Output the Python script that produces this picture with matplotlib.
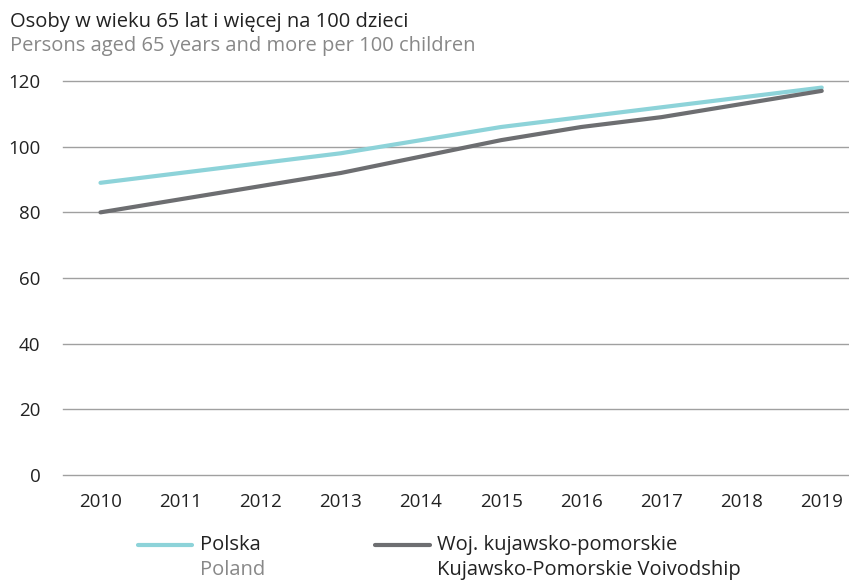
import matplotlib.pyplot as plt
from matplotlib.lines import Line2D

plt.rcParams['font.family'] = ['Open Sans', 'DejaVu Sans']

years = [2010, 2011, 2012, 2013, 2014, 2015, 2016, 2017, 2018, 2019]
polska = [89, 92, 95, 98, 102, 106, 109, 112, 115, 118]
kujawsko = [80, 84, 88, 92, 97, 102, 106, 109, 113, 117]

c_pl = '#8dd3d9'
c_kp = '#6d6e71'

fig = plt.figure(figsize=(8.49, 5.85), dpi=100)
ax = fig.add_axes([0.074, 0.188, 0.926, 0.6735])

ax.plot(years, polska, color=c_pl, lw=3, solid_capstyle='round', zorder=3)
ax.plot(years, kujawsko, color=c_kp, lw=3, solid_capstyle='round', zorder=3)

ax.set_ylim(0, 120)
ax.set_xlim(2009.53, 2019.34)
ax.set_yticks(range(0, 121, 20))
ax.set_xticks(years)
ax.grid(axis='y', color='#a0a0a0', lw=1)
for gl in ax.get_ygridlines():
    gl.set_clip_on(False)
ax.set_axisbelow(True)
for s in ax.spines.values():
    s.set_visible(False)
ax.tick_params(length=0, labelsize=13.5, colors='#222222')
ax.tick_params(axis='y', pad=16)
ax.tick_params(axis='x', pad=13)

fig.text(0.012, 0.962, 'Osoby w wieku 65 lat i więcej na 100 dzieci', fontsize=14.5,
         color='#222222', va='center')
fig.text(0.012, 0.921, 'Persons aged 65 years and more per 100 children', fontsize=14.5,
         color='#888888', va='center')

# legend
fig.add_artist(Line2D([138/849, 192/849], [1-545/585]*2, color=c_pl, lw=3,
                      solid_capstyle='round'))
fig.text(200/849, 1-545/585, 'Polska', fontsize=14.5, color='#222222', va='center')
fig.text(200/849, 1-570/585, 'Poland', fontsize=14.5, color='#888888', va='center')
fig.add_artist(Line2D([375/849, 430/849], [1-545/585]*2, color=c_kp, lw=3,
                      solid_capstyle='round'))
fig.text(437/849, 1-545/585, 'Woj. kujawsko-pomorskie', fontsize=14.5, color='#222222',
         va='center')
fig.text(437/849, 1-570/585, 'Kujawsko-Pomorskie Voivodship', fontsize=14.5,
         color='#222222', va='center')

fig.savefig('out.png', dpi=100)
